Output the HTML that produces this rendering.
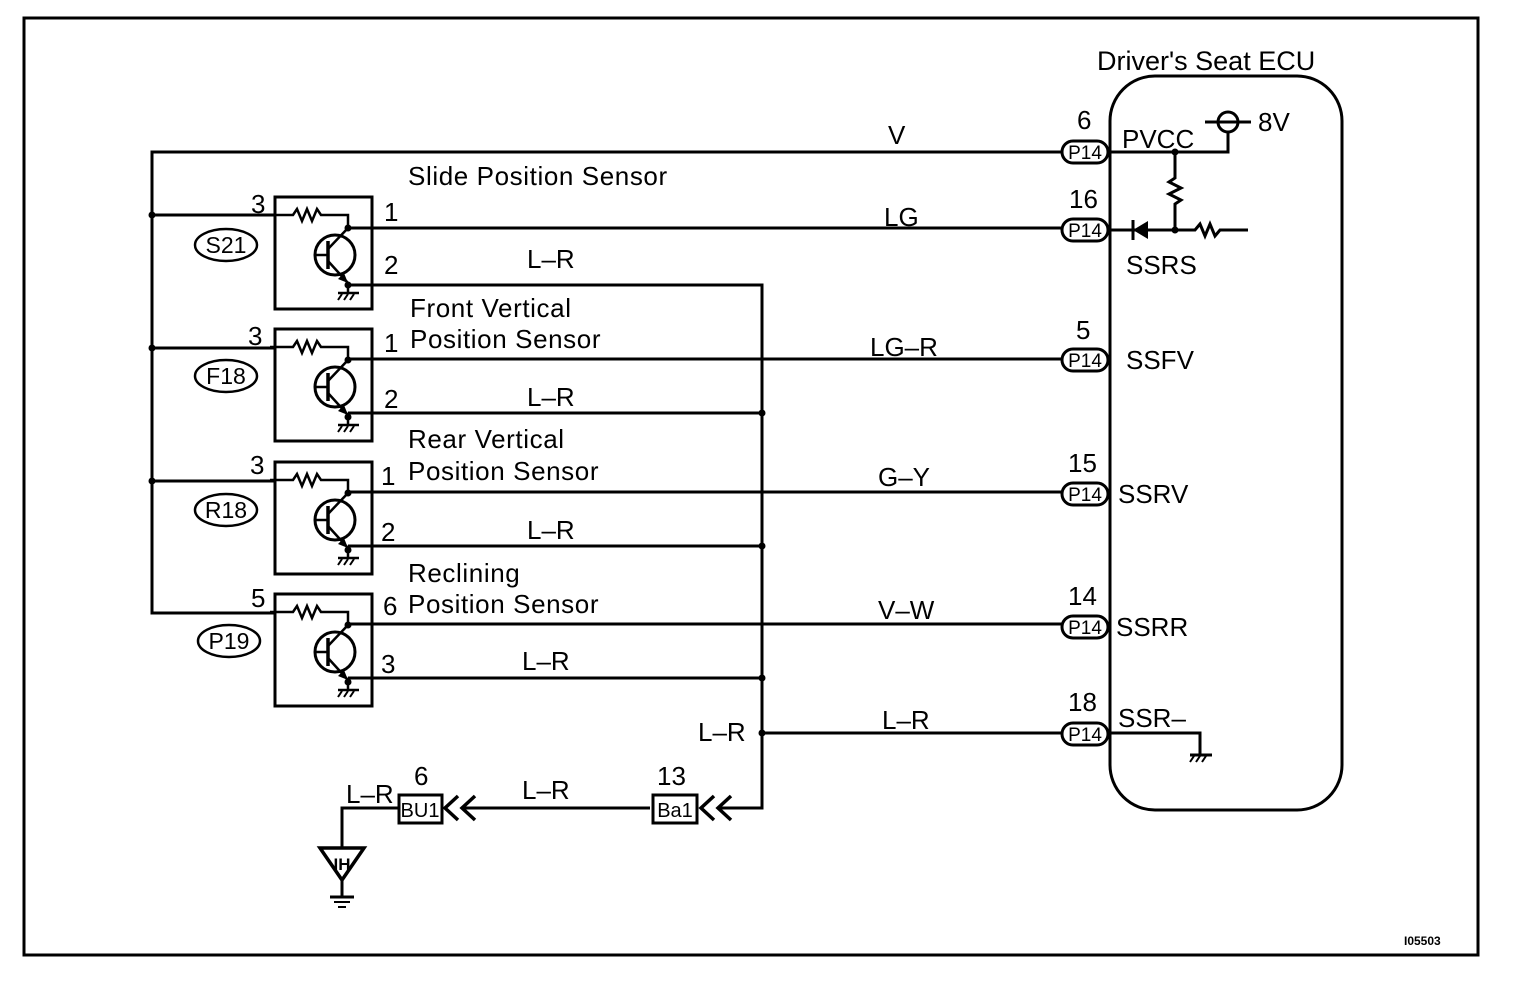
<!DOCTYPE html>
<html><head><meta charset="utf-8"><style>
html,body{margin:0;padding:0;background:#fff;}
svg{display:block;}
text{font-family:"Liberation Sans",Arial,sans-serif;fill:#000;}
</style></head><body>
<svg width="1520" height="986" viewBox="0 0 1520 986" xmlns="http://www.w3.org/2000/svg">
<defs>
<g id="sensor">
  <rect x="0" y="0" width="97" height="112" fill="none" stroke="#000" stroke-width="3"/>
  <polyline points="-5,18 18,18 22,12 27,24 32,12 37,24 42,12 46,18 73,18 73,31" fill="none" stroke="#000" stroke-width="2.5"/>
  <circle cx="60" cy="58" r="20" fill="none" stroke="#000" stroke-width="3"/>
  <line x1="53" y1="44" x2="53" y2="72" stroke="#000" stroke-width="3.5"/>
  <line x1="40" y1="58" x2="53" y2="58" stroke="#000" stroke-width="2.5"/>
  <line x1="53" y1="52" x2="73" y2="31" stroke="#000" stroke-width="2.5"/>
  <line x1="53" y1="64" x2="73" y2="86" stroke="#000" stroke-width="2.5"/>
  <polygon points="73,86 63,82 69,76" fill="#000"/>
  <circle cx="73" cy="31" r="3.5" fill="#000"/>
  <circle cx="73" cy="88" r="3.5" fill="#000"/>
  <line x1="73" y1="88" x2="73" y2="96" stroke="#000" stroke-width="2.5"/>
  <line x1="63" y1="96" x2="84" y2="96" stroke="#000" stroke-width="2.5"/>
  <line x1="67" y1="97" x2="63" y2="103" stroke="#000" stroke-width="2"/>
  <line x1="73" y1="97" x2="69" y2="103" stroke="#000" stroke-width="2"/>
  <line x1="79" y1="97" x2="75" y2="103" stroke="#000" stroke-width="2"/>
</g>
<g id="pill">
  <rect x="-23" y="-11" width="46" height="22" rx="11" fill="#fff" stroke="#000" stroke-width="3"/>
  <text x="0" y="7" font-size="19" text-anchor="middle">P14</text>
</g>
</defs>
<rect x="24" y="18" width="1454" height="937" fill="none" stroke="#000" stroke-width="3"/>
<rect x="1110" y="76" width="232" height="734" rx="45" fill="none" stroke="#000" stroke-width="3"/>
<text x="1097" y="70" font-size="27">Driver's Seat ECU</text>

<g stroke="#000" stroke-width="3" fill="none">
  <polyline points="1062,152 152,152 152,613 275,613"/>
  <line x1="152" y1="215" x2="275" y2="215"/>
  <line x1="152" y1="348" x2="275" y2="348"/>
  <line x1="152" y1="481" x2="275" y2="481"/>
  <line x1="348" y1="228" x2="1062" y2="228"/>
  <line x1="348" y1="359" x2="1062" y2="359"/>
  <line x1="348" y1="492" x2="1062" y2="492"/>
  <line x1="348" y1="624" x2="1062" y2="624"/>
  <polyline points="348,285 762,285 762,808 718,808"/>
  <line x1="348" y1="413" x2="762" y2="413"/>
  <line x1="348" y1="546" x2="762" y2="546"/>
  <line x1="348" y1="678" x2="762" y2="678"/>
  <line x1="762" y1="733" x2="1062" y2="733"/>
  <line x1="650" y1="808" x2="462" y2="808"/>
  <polyline points="398,808 342,808 342,848"/>
  <polyline points="714,796 701,808 714,820" stroke-width="3.5"/>
  <polyline points="731,796 718,808 731,820" stroke-width="3.5"/>
  <polyline points="458,796 445,808 458,820" stroke-width="3.5"/>
  <polyline points="475,796 462,808 475,820" stroke-width="3.5"/>
  <polyline points="1108,152 1228,152 1228,132"/>
  <circle cx="1228" cy="122" r="10"/>
  <line x1="1205" y1="122" x2="1251" y2="122"/>
  <polyline points="1175,152 1175,178 1169,182 1181,188 1169,194 1181,200 1175,204 1175,230"/>
  <polyline points="1108,230 1195,230 1200,224 1205,236 1210,224 1215,236 1220,230 1248,230"/>
  <polyline points="1108,733 1200,733 1200,755"/>
  <line x1="1190" y1="755" x2="1212" y2="755"/>
  <line x1="1194" y1="756" x2="1190" y2="762" stroke-width="2"/>
  <line x1="1200" y1="756" x2="1196" y2="762" stroke-width="2"/>
  <line x1="1206" y1="756" x2="1202" y2="762" stroke-width="2"/>
  <polygon points="320,848 364,848 342,880" stroke-width="3.5"/>
  <line x1="342" y1="880" x2="342" y2="897"/>
  <line x1="330" y1="897" x2="354" y2="897"/>
  <line x1="334" y1="902" x2="350" y2="902" stroke-width="2"/>
  <line x1="338" y1="907" x2="346" y2="907" stroke-width="2"/>
</g>
<polygon points="1133,230 1148,221 1148,239" fill="#000"/>
<line x1="1133" y1="220" x2="1133" y2="240" stroke="#000" stroke-width="3"/>
<g fill="#000">
  <circle cx="152" cy="215" r="3.5"/><circle cx="152" cy="348" r="3.5"/><circle cx="152" cy="481" r="3.5"/>
  <circle cx="762" cy="413" r="3.5"/><circle cx="762" cy="546" r="3.5"/><circle cx="762" cy="678" r="3.5"/><circle cx="762" cy="733" r="3.5"/>
  <circle cx="1175" cy="152" r="3.5"/><circle cx="1175" cy="230" r="3.5"/>
</g>
<text x="342" y="870" font-size="17" text-anchor="middle" font-weight="bold">IH</text>

<use href="#sensor" x="275" y="197"/>
<use href="#sensor" x="275" y="329"/>
<use href="#sensor" x="275" y="462"/>
<use href="#sensor" x="275" y="594"/>

<g fill="none" stroke="#000" stroke-width="2.5">
  <ellipse cx="226" cy="245" rx="31" ry="16"/>
  <ellipse cx="226" cy="376" rx="31" ry="16"/>
  <ellipse cx="226" cy="510" rx="31" ry="16"/>
  <ellipse cx="229" cy="641" rx="31" ry="16"/>
</g>
<g font-size="23" text-anchor="middle">
  <text x="226" y="253">S21</text><text x="226" y="384">F18</text><text x="226" y="518">R18</text><text x="229" y="649">P19</text>
</g>

<g font-size="26">
  <text x="251" y="213">3</text><text x="384" y="221">1</text><text x="384" y="274">2</text>
  <text x="248" y="345">3</text><text x="384" y="352">1</text><text x="384" y="408">2</text>
  <text x="250" y="474">3</text><text x="381" y="485">1</text><text x="381" y="541">2</text>
  <text x="251" y="607">5</text><text x="383" y="615">6</text><text x="381" y="673">3</text>
  <text x="408" y="185" letter-spacing="0.6">Slide Position Sensor</text>
  <text x="410" y="317" letter-spacing="0.6">Front Vertical</text><text x="410" y="348" letter-spacing="0.6">Position Sensor</text>
  <text x="408" y="448" letter-spacing="0.6">Rear Vertical</text><text x="408" y="480" letter-spacing="0.6">Position Sensor</text>
  <text x="408" y="582" letter-spacing="0.6">Reclining</text><text x="408" y="613" letter-spacing="0.6">Position Sensor</text>
  <text x="888" y="144">V</text>
  <text x="884" y="226">LG</text>
  <text x="527" y="268">L–R</text>
  <text x="870" y="356">LG–R</text>
  <text x="527" y="406">L–R</text>
  <text x="878" y="486">G–Y</text>
  <text x="527" y="539">L–R</text>
  <text x="878" y="619">V–W</text>
  <text x="522" y="670">L–R</text>
  <text x="698" y="741">L–R</text>
  <text x="882" y="729">L–R</text>
  <text x="522" y="799">L–R</text>
  <text x="346" y="803">L–R</text>
  <text x="414" y="785">6</text>
  <text x="657" y="785">13</text>
  <text x="1077" y="129">6</text>
  <text x="1069" y="208">16</text>
  <text x="1076" y="339">5</text>
  <text x="1068" y="472">15</text>
  <text x="1068" y="605">14</text>
  <text x="1068" y="711">18</text>
  <text x="1122" y="148">PVCC</text>
  <text x="1258" y="131">8V</text>
  <text x="1126" y="274">SSRS</text>
  <text x="1126" y="369">SSFV</text>
  <text x="1118" y="503">SSRV</text>
  <text x="1116" y="636">SSRR</text>
  <text x="1118" y="727">SSR–</text>
</g>
<rect x="399" y="795" width="43" height="28" fill="#fff" stroke="#000" stroke-width="3"/>
<text x="420" y="817" font-size="20" text-anchor="middle">BU1</text>
<rect x="653" y="795" width="44" height="28" fill="#fff" stroke="#000" stroke-width="3"/>
<text x="675" y="817" font-size="20" text-anchor="middle">Ba1</text>
<use href="#pill" x="1085" y="152"/>
<use href="#pill" x="1085" y="230"/>
<use href="#pill" x="1085" y="360"/>
<use href="#pill" x="1085" y="494"/>
<use href="#pill" x="1085" y="627"/>
<use href="#pill" x="1085" y="734"/>
<text x="1404" y="945" font-size="12" font-weight="bold">I05503</text>
</svg>
</body></html>
